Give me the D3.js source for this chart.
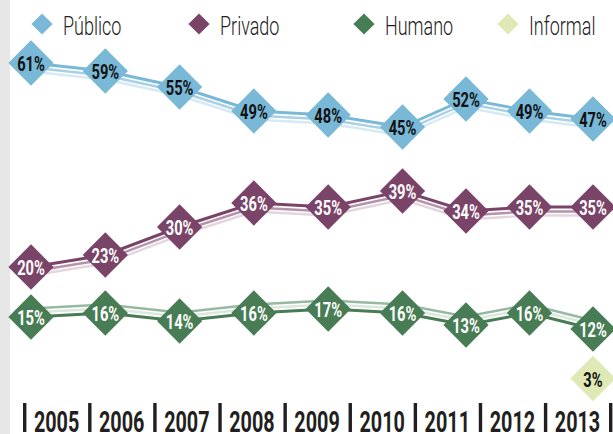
<!DOCTYPE html>
<html>
<head>
<meta charset="utf-8">
<script src="https://cdn.jsdelivr.net/npm/d3@7"></script>
<style>
  html, body { margin: 0; padding: 0; background: #fff; }
  svg { display: block; }
</style>
</head>
<body>
<svg id="chart" width="613" height="434"></svg>
<script>
// ---- data ----
const years    = [2005, 2006, 2007, 2008, 2009, 2010, 2011, 2012, 2013];
const publico  = [61, 59, 55, 49, 48, 45, 52, 49, 47];
const privado  = [20, 23, 30, 36, 35, 39, 34, 35, 35];
const humano   = [15, 16, 14, 16, 17, 16, 13, 16, 12];
const informal = [null, null, null, null, null, null, null, null, 3];
const seriesNames = ["Público", "Privado", "Humano", "Informal"];
const yearLabels = years.map(String);

// ---- look ----
const styles = {
  "Público":  { fill: "#79b8d6", mid: "#a9d1e5", pale: "#d6eaf3", text: "#111", base: 307, offsets: [0, 4.5, 8.5] },
  "Privado":  { fill: "#7a4468", mid: "#b593aa", pale: "#e4d6df", text: "#fff", base: 347, offsets: [0, 4.5, 8.5] },
  "Humano":   { fill: "#487c54", mid: "#97b9a0", pale: "#dae8dd", text: "#fff", base: 377, offsets: [0, -8.5, -4.5] },
  "Informal": { fill: "#dfe9b5", mid: "#dfe9b5", pale: "#dfe9b5", text: "#111", base: 390.5, offsets: [0, 0, 0] }
};
const seriesValues = { "Público": publico, "Privado": privado, "Humano": humano, "Informal": informal };

const svg = d3.select("#chart");

// grey strip on the left edge
svg.append("rect").attr("x", 0).attr("y", 0).attr("width", 10).attr("height", 434).attr("fill", "#e7e7e7");

// x: piecewise linear over the years
const x = d3.scaleLinear().domain([2005, 2010, 2013]).range([31, 402.5, 593]);

// each series sits on its own row, sharing one vertical scale (4 px per point)
const yFor = name => d3.scaleLinear().domain([0, 100]).range([styles[name].base, styles[name].base - 400]);

const linesG = svg.append("g");
const marksG = svg.append("g");

seriesNames.forEach(name => {
  const st = styles[name];
  const y = yFor(name);
  const pts = years.map((yr, i) => ({ yr, v: seriesValues[name][i] })).filter(d => d.v != null);

  if (pts.length > 1) {
    const line = d3.line().x(d => x(d.yr)).y(d => y(d.v));
    // pale and mid ribbons, then the main stroke
    [[st.pale, st.offsets[2], 2.4], [st.mid, st.offsets[1], 2.4], [st.fill, st.offsets[0], 3]].forEach(([c, dy, w]) => {
      linesG.append("path")
        .datum(pts)
        .attr("d", line)
        .attr("transform", `translate(0,${dy})`)
        .attr("fill", "none")
        .attr("stroke", c)
        .attr("stroke-width", w)
        .attr("stroke-linejoin", "miter");
    });
  }

  const g = marksG.selectAll(null).data(pts).enter().append("g")
    .attr("transform", d => `translate(${x(d.yr)},${y(d.v)})`);
  g.append("rect")
    .attr("x", -16).attr("y", -16).attr("width", 32).attr("height", 32)
    .attr("transform", "rotate(45)")
    .attr("fill", st.fill);
  g.append("text")
    .attr("transform", "translate(0,8) scale(0.7,1)")
    .attr("text-anchor", "middle")
    .attr("font-family", "Roboto, 'Liberation Sans', sans-serif")
    .attr("font-weight", 700)
    .attr("font-size", 21)
    .attr("fill", st.text)
    .text(d => d.v + "%");
});

// ---- legend ----
const legendX = [42, 199, 364, 508];
const legend = svg.append("g").selectAll(null).data(seriesNames).enter().append("g")
  .attr("transform", (d, i) => `translate(${legendX[i]},24)`);
legend.append("rect")
  .attr("x", -7.5).attr("y", -7.5).attr("width", 15).attr("height", 15)
  .attr("transform", "rotate(45)")
  .attr("fill", d => styles[d].fill);
legend.append("text")
  .attr("transform", "translate(21,10.5) scale(0.72,1)")
  .attr("font-family", "Roboto, 'Liberation Sans', sans-serif")
  .attr("font-weight", 300)
  .attr("font-size", 25)
  .attr("fill", "#222")
  .text(d => d);

// ---- year axis: bars and labels set in one line ----
const axisG = svg.append("g");
const sx = 0.66, barW = 3.4, axisLeft = 23, axisRight = 609;
const labels = axisG.selectAll("text").data(yearLabels).enter().append("text")
  .attr("font-family", "Roboto, 'Liberation Sans', sans-serif")
  .attr("font-weight", 700)
  .attr("font-size", 30)
  .attr("fill", "#231f20")
  .text(d => d);
const widths = labels.nodes().map(n => n.getComputedTextLength() * sx);
const free = axisRight - axisLeft - yearLabels.length * barW - d3.sum(widths);
const gapA = free / yearLabels.length * 6 / 13, gapB = free / yearLabels.length * 7 / 13;
let cursor = axisLeft;
const barXs = [];
labels.each(function (d, i) {
  barXs.push(cursor);
  cursor += barW + gapA;
  d3.select(this).attr("transform", `translate(${cursor},431.5) scale(${sx},1)`);
  cursor += widths[i] + gapB;
});
barXs.push(cursor);
axisG.selectAll("rect").data(barXs).enter().append("rect")
  .attr("x", d => d).attr("y", 403).attr("width", barW).attr("height", 29)
  .attr("fill", "#231f20");
</script>
</body>
</html>
